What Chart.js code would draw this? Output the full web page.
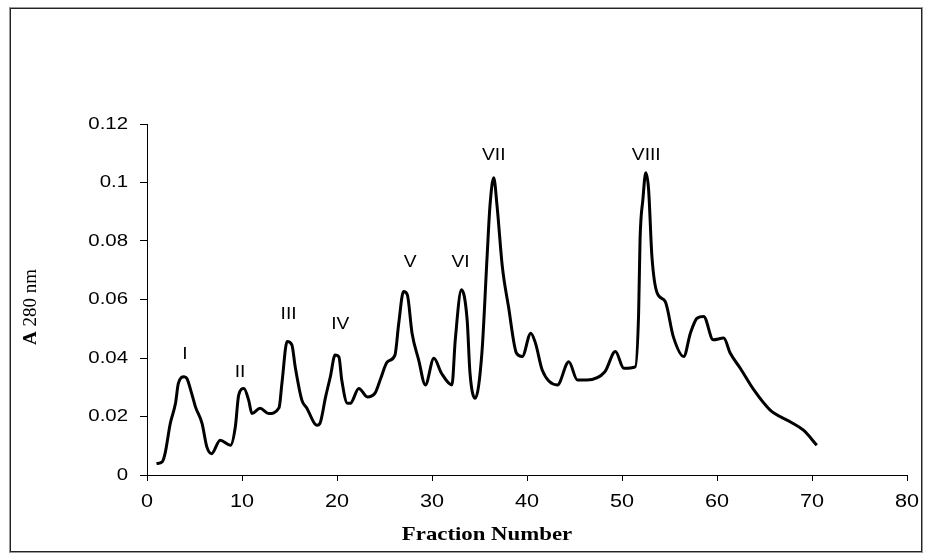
<!DOCTYPE html>
<html>
<head>
<meta charset="utf-8">
<title>Fraction Number vs A 280nm</title>
<script src="https://cdn.jsdelivr.net/npm/chart.js@4/dist/chart.umd.min.js"></script>
<style>
  body { margin: 0; background: #fff; }
  canvas { display: block; }
</style>
</head>
<body>
<canvas id="elution" width="928" height="557"></canvas>
<script>
// values
const fraction = [1, 1.6, 1.9, 2.45, 3.0, 3.3, 3.9, 4.2, 4.7, 5.1, 5.8, 6.3, 6.8, 7.7, 8.8,
  9.3, 9.65, 10.2, 10.7, 11.05, 11.9, 12.8, 13.9, 14.2, 14.75, 15.25, 15.6, 16.3, 16.8, 17.9,
  18.2, 18.8, 19.3, 19.8, 20.2, 20.5, 21.1, 21.4, 22.3, 23.2, 24.0, 24.6, 25.3, 26.1, 26.5,
  27.0, 27.4, 27.9, 28.6, 29.3, 30.2, 31.0, 32.1, 32.45, 33.1, 33.7, 34.0, 34.55, 35.25, 35.8,
  36.1, 36.5, 36.85, 37.4, 38.05, 38.9, 39.5, 40.4, 40.9, 41.6, 43.2, 44.4, 45.3, 46.3, 48.2,
  49.3, 50.2, 51.4, 51.75, 51.9, 52.2, 52.5, 52.8, 53.15, 53.7, 54.55, 55.4, 56.5, 57.2, 57.9,
  58.6, 59.6, 60.7, 61.4, 62.45, 63.9, 65.6, 67.7, 69.1, 70.5];
const absorbance = [0.0039, 0.0045, 0.0073, 0.0176, 0.0245, 0.0313, 0.0336, 0.033, 0.0279, 0.0233, 0.0176, 0.0096, 0.0073, 0.0119, 0.0102,
  0.0165, 0.0273, 0.0296, 0.0256, 0.021, 0.0228, 0.021, 0.023, 0.0313, 0.0456, 0.0445, 0.037, 0.0256, 0.023, 0.017,
  0.0176, 0.0267, 0.0336, 0.041, 0.0404, 0.0325, 0.0245, 0.0245, 0.0296, 0.0267, 0.028, 0.033, 0.0387, 0.041, 0.0519,
  0.0627, 0.0616, 0.0485, 0.0393, 0.0308, 0.0399, 0.0348, 0.0308, 0.0462, 0.0633, 0.053, 0.0348, 0.0262, 0.0416, 0.0747,
  0.0919, 0.1016, 0.0919, 0.0713, 0.0576, 0.0416, 0.0405, 0.0485, 0.045, 0.0359, 0.0308, 0.0387, 0.0325, 0.0325, 0.0353,
  0.0422, 0.0365, 0.037, 0.0553, 0.0805, 0.0942, 0.1033, 0.0976, 0.0747, 0.0622, 0.0593, 0.0473, 0.0405, 0.0485, 0.0536,
  0.0542, 0.0462, 0.0468, 0.0416, 0.0365, 0.029, 0.0222, 0.0182, 0.0153, 0.0102];

// peak labels and where they sit
const peakNames = ["I", "II", "III", "IV", "V", "VI", "VII", "VIII"];
const peakX = [4.0, 9.8, 14.9, 20.35, 27.7, 33.0, 36.5, 52.55];
const peakY = [0.041, 0.0349, 0.0548, 0.0513, 0.0725, 0.0725, 0.1093, 0.1093];

const xTicks = [0, 10, 20, 30, 40, 50, 60, 70, 80];
const yTicks = [0, 0.02, 0.04, 0.06, 0.08, 0.1, 0.12];

const stretch = 1.2; // the original text is a bit wide

function wideText(ctx, txt, x, y, font, align) {
  ctx.save();
  ctx.translate(x, y);
  ctx.scale(stretch, 1);
  ctx.font = font;
  ctx.textAlign = align;
  ctx.textBaseline = "middle";
  ctx.fillStyle = "#000";
  ctx.fillText(txt, 0, 0);
  ctx.restore();
}

const extras = {
  id: "extras",
  afterDraw(chart) {
    const ctx = chart.ctx;
    const xs = chart.scales.x, ys = chart.scales.y;

    // tick labels
    yTicks.forEach(v => {
      wideText(ctx, String(+v.toFixed(2)), 128, ys.getPixelForValue(v), "17px 'Liberation Sans', Arial", "right");
    });
    xTicks.forEach(v => {
      wideText(ctx, String(v), xs.getPixelForValue(v), 502, "18px 'Liberation Sans', Arial", "center");
    });

    // peak names
    peakNames.forEach((n, i) => {
      wideText(ctx, n, xs.getPixelForValue(peakX[i]), ys.getPixelForValue(peakY[i]), "16px 'Liberation Sans', Arial", "center");
    });

    // x title
    wideText(ctx, "Fraction Number", 487, 535, "bold 19px 'Liberation Serif', 'Times New Roman'", "center");

    // y title, bold A then regular text
    ctx.save();
    ctx.translate(31, 307);
    ctx.rotate(-Math.PI / 2);
    ctx.textBaseline = "middle";
    ctx.fillStyle = "#000";
    const fb = "bold 19px 'Liberation Serif', 'Times New Roman'";
    const fr = "19px 'Liberation Serif', 'Times New Roman'";
    ctx.font = fb;
    const wA = ctx.measureText("A ").width;
    ctx.font = fr;
    const wR = ctx.measureText("280 nm").width;
    let x0 = -(wA + wR) / 2;
    ctx.font = fb;
    ctx.textAlign = "left";
    ctx.fillText("A ", x0, 0);
    ctx.font = fr;
    ctx.fillText("280 nm", x0 + wA, 0);
    ctx.restore();

    // outer frame
    ctx.save();
    ctx.strokeStyle = "#999";
    ctx.lineWidth = 1;
    ctx.strokeRect(9.5, 7.5, 913, 545);
    ctx.strokeStyle = "#222";
    ctx.strokeRect(10.5, 8.5, 911, 543);
    ctx.restore();
  }
};

new Chart(document.getElementById("elution").getContext("2d"), {
  type: "line",
  data: {
    datasets: [{
      data: fraction.map((f, i) => ({ x: f, y: absorbance[i] })),
      borderColor: "#000",
      borderWidth: 3,
      pointRadius: 0,
      fill: false,
      cubicInterpolationMode: "monotone"
    }]
  },
  options: {
    responsive: false,
    animation: false,
    layout: { padding: { top: 124, right: 21, bottom: 0, left: 0 } },
    plugins: { legend: { display: false }, tooltip: { enabled: false } },
    scales: {
      x: {
        type: "linear",
        min: 0,
        max: 80,
        ticks: { stepSize: 10, display: false },
        grid: { drawOnChartArea: false, tickLength: 6, color: "#000" },
        border: { color: "#000" },
        afterFit: s => { s.height = 82; }
      },
      y: {
        min: 0,
        max: 0.12,
        ticks: { stepSize: 0.02, display: false },
        grid: { drawOnChartArea: false, tickLength: 7, color: "#000" },
        border: { color: "#000" },
        afterFit: s => { s.width = 147; }
      }
    }
  },
  plugins: [extras]
});
</script>
</body>
</html>
